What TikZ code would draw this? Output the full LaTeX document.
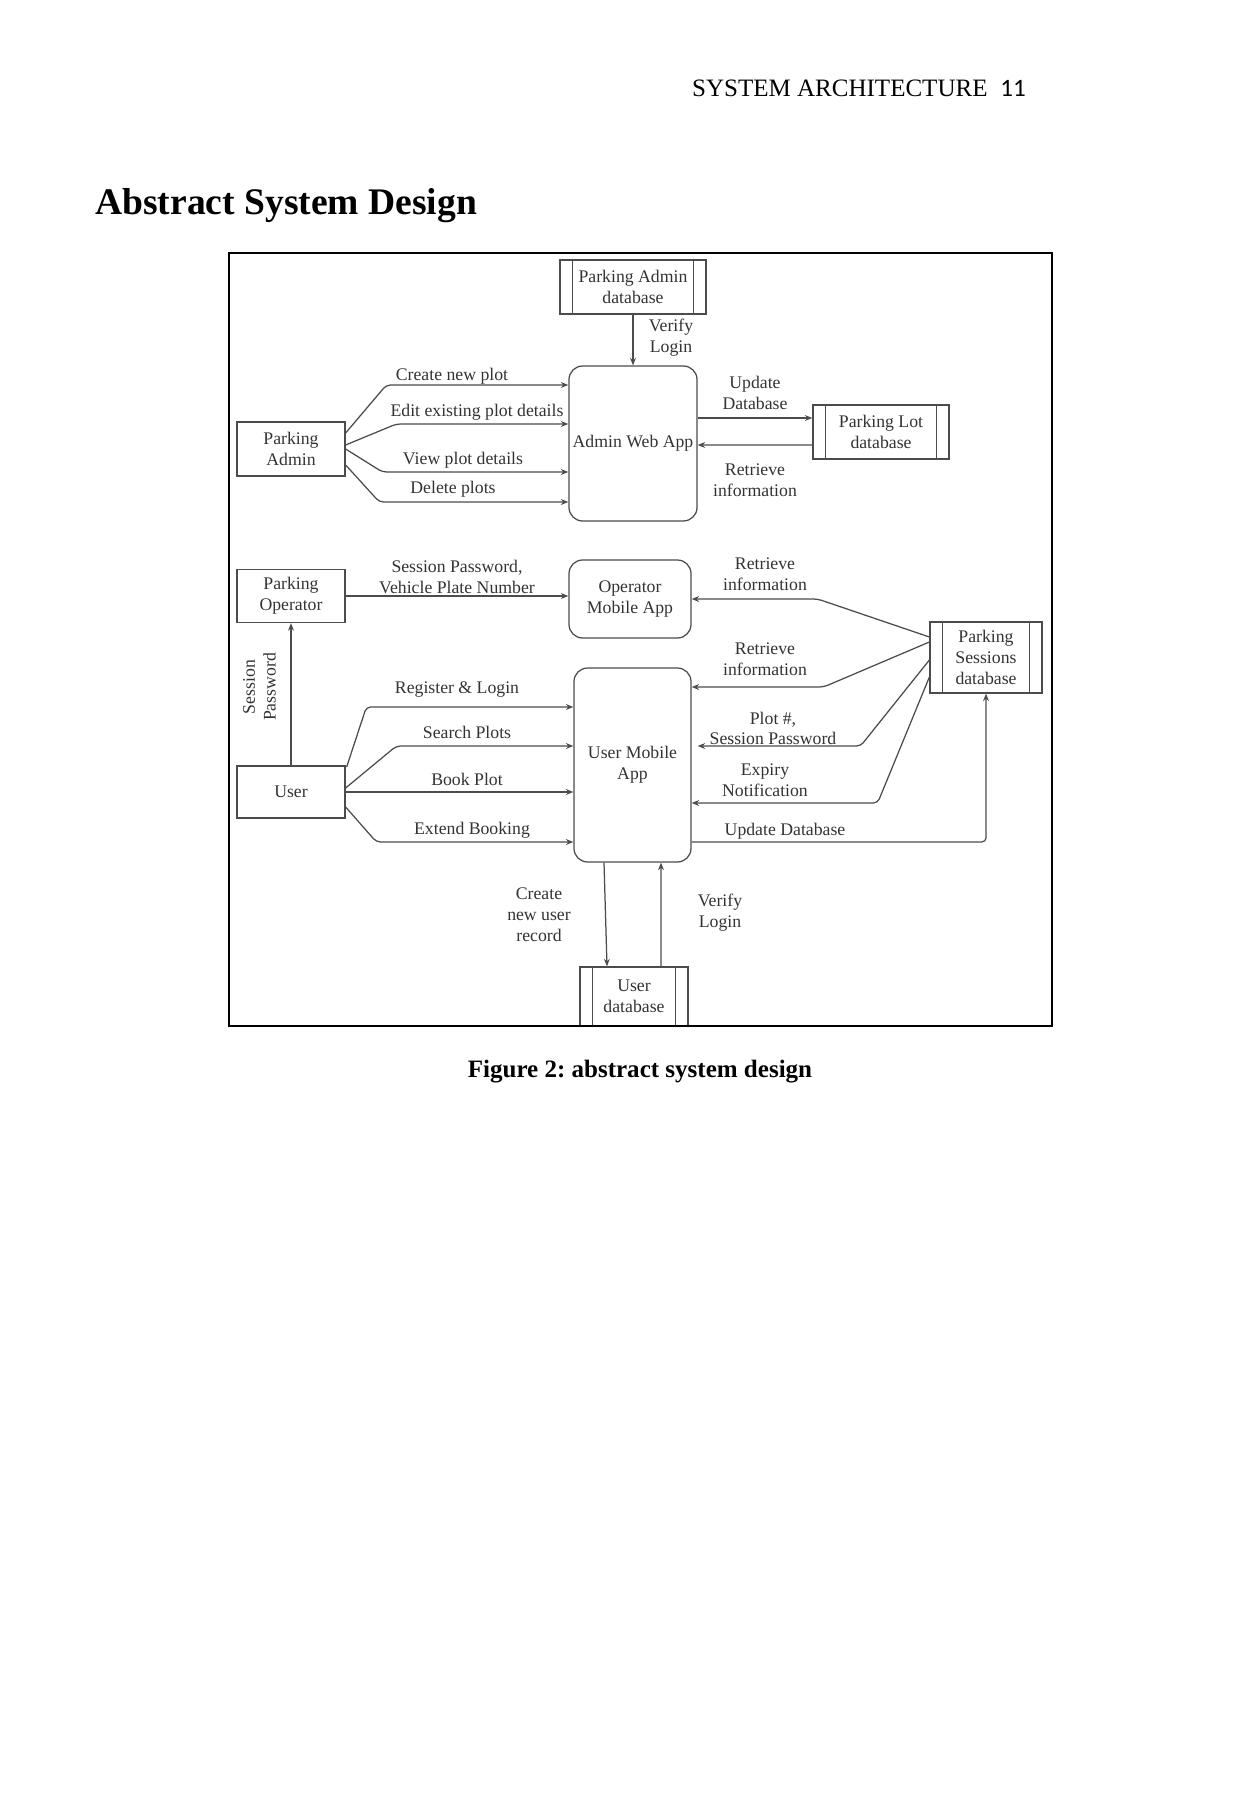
\documentclass[tikz,border=0pt]{standalone}
\usepackage{fontspec}
\setmainfont{Liberation Serif}
\newfontfamily\pgnofont{Carlito}
\usetikzlibrary{arrows.meta, calc}
\frenchspacing

\begin{document}
\begin{tikzpicture}[
  x=0.4795pt, y=-0.4795pt,
  box/.style={rectangle, draw=black!70, line width=0.6pt, align=center, text=black!80,
              font=\fontsize{8.5}{10}\selectfont, minimum width=51.8pt, inner sep=1pt},
  app/.style={box, rounded corners=6.5pt},
  store/.style={box, path picture={
      \draw[black!70, line width=0.5pt]
        ([xshift=6pt]path picture bounding box.north west) -- ([xshift=6pt]path picture bounding box.south west);
      \draw[black!70, line width=0.5pt]
        ([xshift=-6pt]path picture bounding box.north east) -- ([xshift=-6pt]path picture bounding box.south east);}},
  lbl/.style={align=center, text=black!80, font=\fontsize{8.5}{10}\selectfont, inner sep=0pt},
  arr/.style={-{Stealth[length=3.6pt, width=2.8pt]}, draw=black!70, line width=0.6pt, rounded corners=2pt}
]
\useasboundingbox (0,0) rectangle (1241,1807);

\node[anchor=base east, inner sep=0pt, font=\fontsize{12}{14}\selectfont] (hdr) at (988,97) {SYSTEM ARCHITECTURE};
\node[anchor=base west, inner sep=0pt, font=\pgnofont\fontsize{12}{14}\selectfont] (pgno) at (1000,97) {11};
\node[anchor=base west, inner sep=0pt, font=\bfseries\fontsize{18}{22}\selectfont] (title) at (95,215) {Abstract System Design};

\node[box, minimum height=25.9pt] (padmin) at (291,449) {Parking\\Admin};
\node[box, minimum height=25.4pt] (popr)   at (291,596) {Parking\\Operator};
\node[box, minimum height=24.9pt] (user)   at (291,792) {User};
\node[app, minimum width=61.4pt, minimum height=74.3pt] (awa) at (633,443.5) {Admin Web App};
\node[app, minimum width=58.5pt, minimum height=37.4pt] (oma) at (630,599) {Operator\\Mobile App};
\node[app, minimum width=56.1pt, minimum height=93pt]   (uma) at (632.5,765) {User Mobile\\App};
\node[store, minimum width=70pt,   minimum height=25.9pt] (padb) at (633,287) {Parking Admin\\database};
\node[store, minimum width=65.2pt, minimum height=25.9pt] (pldb) at (881,432) {Parking Lot\\database};
\node[store, minimum width=53.7pt, minimum height=34pt]   (psdb) at (986,657.5) {Parking\\Sessions\\database};
\node[store, minimum width=51.8pt, minimum height=28.3pt] (udb)  at (634,996.5) {User\\database};

\draw[arr] (padb.south) -- (awa.north);
\draw[arr] ($(padmin.east)+(0,-16)$) -- ($(awa.west)+(-182,-58.5)$) -- ($(awa.west)+(0,-58.5)$);
\draw[arr] ($(padmin.east)+(0,-4)$)  -- ($(awa.west)+(-172,-19.5)$) -- ($(awa.west)+(0,-19.5)$);
\draw[arr] (padmin.east)             -- ($(awa.west)+(-186,28.5)$)  -- ($(awa.west)+(0,28.5)$);
\draw[arr] ($(padmin.east)+(0,16)$)  -- ($(awa.west)+(-189,58.5)$)  -- ($(awa.west)+(0,58.5)$);
\draw[arr] ($(awa.east)+(0,-25.5)$) -- ($(pldb.west)+(0,-14)$);
\draw[arr] ($(pldb.west)+(0,13)$) -- ($(awa.east)+(0,1.5)$);

\draw[arr] (popr.east) -- (popr.east -| oma.west);
\draw[arr] (user.north) -- (popr.south);
\draw[arr] ($(psdb.west)+(0,-20.5)$) -- ($(oma.east)+(126,0)$) -- (oma.east);
\draw[arr] ($(psdb.west)+(0,-15.5)$) -- ($(uma.east)+(132,-78)$) -- ($(uma.east)+(0,-78)$);
\draw[arr] ($(psdb.west)+(0,2.5)$)   -- ($(uma.east)+(169,-19)$) -- ($(uma.east)+(6,-19)$);
\draw[arr] ($(psdb.west)+(0,19.5)$)  -- ($(uma.east)+(186,38)$)  -- ($(uma.east)+(0,38)$);
\draw[arr] ($(uma.east)+(0,77)$) -| (psdb.south);

\draw[arr] ($(user.east)+(1,-25)$) -- ($(uma.west)+(-207,-58)$) -- ($(uma.west)+(0,-58)$);
\draw[arr] ($(user.east)+(0,-4)$)  -- ($(uma.west)+(-177,-19)$) -- ($(uma.west)+(0,-19)$);
\draw[arr] (user.east) -- ($(uma.west)+(0,27)$);
\draw[arr] ($(user.east)+(0,15)$)  -- ($(uma.west)+(-197,77)$)  -- ($(uma.west)+(0,77)$);
\draw[arr] ($(uma.south)+(-28.5,0)$) -- ($(udb.north)+(-27,0)$);
\draw[arr] ($(udb.north)+(27,0)$) -- ($(uma.south)+(28.5,0)$);

\node[lbl] (lvfy)  at (671,338) {Verify\\Login};
\node[lbl] (lcrt)  at (452,376) {Create new plot};
\node[lbl] (ledit) at (477,412) {Edit existing plot details};
\node[lbl] (lview) at (463,460) {View plot details};
\node[lbl] (ldel)  at (453,489) {Delete plots};
\node[lbl] (lupd)  at (755,393) {Update\\Database};
\node[lbl] (lret)  at (755,480) {Retrieve\\information};
\node[lbl] (lsess) at (457,577) {Session Password,\\Vehicle Plate Number};
\node[lbl, rotate=90] (lpw) at (259.5,687) {Session\\Password};
\node[lbl] (lret2) at (765,574) {Retrieve\\information};
\node[lbl] (lret3) at (765,659.5) {Retrieve\\information};
\node[lbl] (lplot) at (773,728.5) {Plot \#,\\Session Password};
\node[lbl] (lexp)  at (765,780) {Expiry\\Notification};
\node[lbl] (lupd2) at (785,831) {Update Database};
\node[lbl] (lreg)  at (457,690) {Register \& Login};
\node[lbl] (lsrch) at (467,732) {Search Plots};
\node[lbl] (lbook) at (467,779) {Book Plot};
\node[lbl] (lext)  at (472,830) {Extend Booking};
\node[lbl] (lnew)  at (539,914.5) {Create\\new user\\record};
\node[lbl] (lvfy2) at (720,913) {Verify\\Login};

\draw[line width=1.1pt] (229,253) rectangle (1052,1026);

\node[anchor=base, inner sep=0pt, font=\bfseries\fontsize{12}{14}\selectfont] (cap) at (640,1077) {Figure 2: abstract system design};
\end{tikzpicture}
\end{document}
